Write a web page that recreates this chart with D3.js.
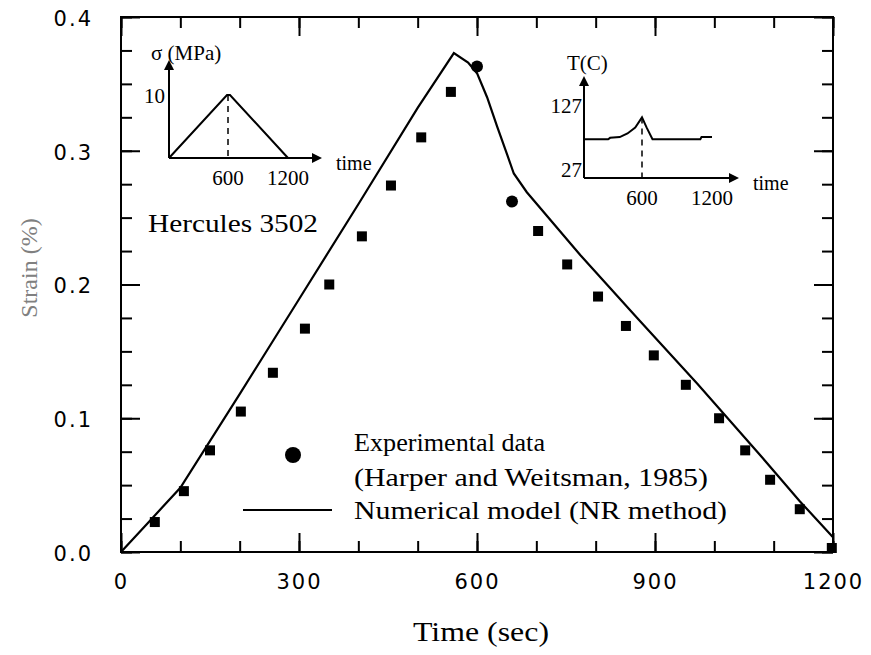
<!DOCTYPE html>
<html><head><meta charset="utf-8">
<script src="https://cdn.jsdelivr.net/npm/d3@7"></script>
<style>body{margin:0;background:#fff}svg{display:block}</style>
</head><body>
<svg id="c" width="871" height="655"></svg>
<script>
// ---- data ----
const expTime   = [57,106,150,202,256,310,351,406,455,506,556,600,659,703,752,804,851,898,952,1008,1052,1094,1144,1198];
const expStrain = [0.0224,0.0455,0.076,0.105,0.134,0.167,0.200,0.236,0.274,0.310,0.344,0.363,0.262,0.240,0.215,0.191,0.169,0.147,0.125,0.100,0.076,0.054,0.032,0.003];
const modelTime   = [0,50,100,200,300,400,500,561,585,600,617,634,651,662,684,774,870,971,1080,1144,1200];
const modelStrain = [0,0.024,0.048,0.118,0.189,0.260,0.332,0.373,0.366,0.358,0.340,0.318,0.297,0.283,0.269,0.222,0.175,0.126,0.071,0.038,0.011];
const xTickLabels = ["0","300","600","900","1200"];
const yTickLabels = ["0.0","0.1","0.2","0.3","0.4"];
const stressTime = [0,590,620,1200];
const stressVal  = [0,10,10,0];
const tempTime = [0,250,270,370,450,530,600,640,690,1100,1110,1200];
const tempVal  = [80,80,82,83,88,96,110,96,80,80,83,83];
const insetTicks = ["600","1200"];
const legendText = ["Experimental data","(Harper and Weitsman, 1985)","Numerical model (NR method)"];

const svg = d3.select("#c");
const x = d3.scaleLinear().domain([0,1200]).range([121,833]);
const y = d3.scaleLinear().domain([0,0.4]).range([552,17]);
const serif = "'Liberation Serif', 'Times New Roman', serif";
const sans = "'DejaVu Sans', sans-serif";

// frame
svg.append("rect").attr("x",121).attr("y",17).attr("width",712).attr("height",535)
  .attr("fill","none").attr("stroke","#000").attr("stroke-width",2);

function styleAxis(g){ g.select(".domain").remove(); g.selectAll("line").attr("stroke","#000").attr("stroke-width",2); }
const xMinor = d3.range(0,1201,100), xMajor = xTickLabels.map(Number);
const yMinor = d3.range(0,0.4001,0.025), yMajor = yTickLabels.map(Number);

svg.append("g").attr("transform","translate(0,552)").call(d3.axisBottom(x).tickValues(xMinor).tickSize(-11).tickFormat("")).call(styleAxis);
svg.append("g").attr("transform","translate(0,552)").call(d3.axisBottom(x).tickValues(xMajor).tickSize(-19).tickPadding(30).tickFormat((d,i)=>xTickLabels[i])).call(styleAxis)
  .selectAll("text").attr("font-family",sans).attr("font-size",21).attr("fill","#000").attr("letter-spacing",2).attr("dy","0.35em");
svg.append("g").attr("transform","translate(0,17)").call(d3.axisTop(x).tickValues(xMinor).tickSize(-11).tickFormat("")).call(styleAxis);
svg.append("g").attr("transform","translate(0,17)").call(d3.axisTop(x).tickValues(xMajor).tickSize(-19).tickFormat("")).call(styleAxis);

svg.append("g").attr("transform","translate(121,0)").call(d3.axisLeft(y).tickValues(yMinor).tickSize(-11).tickFormat("")).call(styleAxis);
svg.append("g").attr("transform","translate(121,0)").call(d3.axisLeft(y).tickValues(yMajor).tickSize(-19).tickPadding(28).tickFormat((d,i)=>yTickLabels[i])).call(styleAxis)
  .selectAll("text").attr("font-family",sans).attr("font-size",21).attr("fill","#000").attr("letter-spacing",2).attr("dy","0.4em");
svg.append("g").attr("transform","translate(833,0)").call(d3.axisRight(y).tickValues(yMinor).tickSize(-11).tickFormat("")).call(styleAxis);
svg.append("g").attr("transform","translate(833,0)").call(d3.axisRight(y).tickValues(yMajor).tickSize(-19).tickFormat("")).call(styleAxis);

// axis titles
svg.append("text").attr("x",413).attr("y",641).attr("font-family",serif).attr("font-size",28)
  .attr("textLength",136).attr("lengthAdjust","spacingAndGlyphs").text("Time (sec)");
svg.append("text").attr("transform","translate(37,268) rotate(-90)").attr("text-anchor","middle")
  .attr("font-family",serif).attr("font-size",24).attr("fill","#808080").text("Strain (%)");

// model line
const line = d3.line().x(d=>x(d[0])).y(d=>y(d[1]));
svg.append("path").datum(modelTime.map((t,i)=>[t,modelStrain[i]])).attr("d",line)
  .attr("fill","none").attr("stroke","#000").attr("stroke-width",2.2);

// experimental points
const pts = expTime.map((t,i)=>[t,expStrain[i]]);
svg.append("g").selectAll("rect").data(pts.filter(d=>d[0]!==600 && d[0]!==659)).join("rect")
  .attr("x",d=>x(d[0])-5).attr("y",d=>y(d[1])-5).attr("width",10).attr("height",10).attr("fill","#000");
svg.append("g").selectAll("circle").data(pts.filter(d=>d[0]===600||d[0]===659)).join("circle")
  .attr("cx",d=>x(d[0])).attr("cy",d=>y(d[1])).attr("r",6).attr("fill","#000");

// Hercules label
svg.append("text").attr("x",148).attr("y",232).attr("font-family",serif).attr("font-size",25)
  .attr("textLength",170).attr("lengthAdjust","spacingAndGlyphs").text("Hercules 3502");

// legend
svg.append("circle").attr("cx",293).attr("cy",455).attr("r",8).attr("fill","#000");
svg.append("line").attr("x1",243).attr("x2",332).attr("y1",510).attr("y2",510).attr("stroke","#000").attr("stroke-width",2);
const legW=[191,354,373], legY=[451,486,519];
legendText.forEach((t,i)=>svg.append("text").attr("x",354).attr("y",legY[i]).attr("font-family",serif)
  .attr("font-size",25).attr("textLength",legW[i]).attr("lengthAdjust","spacingAndGlyphs").text(t));

// arrow marker
svg.append("defs").append("marker").attr("id","arr").attr("viewBox","0 0 10 10").attr("refX",2).attr("refY",5)
  .attr("markerWidth",5).attr("markerHeight",5).attr("orient","auto").attr("markerUnits","strokeWidth")
  .append("path").attr("d","M0,0L10,5L0,10z").attr("fill","#000");

function inset(xs, ys, xEnd, yTop, times, vals, peakT, peakV){
  const ox = xs(0), oy = ys.range()[0];
  svg.append("line").attr("x1",ox).attr("y1",oy).attr("x2",ox).attr("y2",yTop+8).attr("stroke","#000").attr("stroke-width",2).attr("marker-end","url(#arr)");
  svg.append("line").attr("x1",ox).attr("y1",oy).attr("x2",xEnd-8).attr("y2",oy).attr("stroke","#000").attr("stroke-width",2).attr("marker-end","url(#arr)");
  svg.append("line").attr("x1",xs(peakT)).attr("x2",xs(peakT)).attr("y1",ys(peakV)).attr("y2",oy)
    .attr("stroke","#000").attr("stroke-width",1.5).attr("stroke-dasharray","6,5");
  svg.append("path").datum(times.map((t,i)=>[t,vals[i]]))
    .attr("d",d3.line().x(d=>xs(d[0])).y(d=>ys(d[1]))).attr("fill","none").attr("stroke","#000").attr("stroke-width",2);
  insetTicks.forEach(t=>svg.append("text").attr("x",xs(+t)).attr("y",oy+27).attr("text-anchor","middle")
    .attr("font-family",serif).attr("font-size",21).text(t));
  svg.append("text").attr("x",xEnd+14).attr("y",oy+12).attr("font-family",serif).attr("font-size",20).text("time");
}

// stress inset
const sx = d3.scaleLinear().domain([0,600,1200]).range([169,228,288]);
const sy = d3.scaleLinear().domain([0,10]).range([158,95]);
inset(sx, sy, 322, 60, stressTime, stressVal, 600, 10);
svg.append("text").attr("x",165).attr("y",sy(10)+8).attr("text-anchor","end").attr("font-family",serif).attr("font-size",21).text("10");
svg.append("text").attr("x",151).attr("y",60).attr("font-family",serif).attr("font-size",21).text("σ (MPa)");

// temperature inset
const tx = d3.scaleLinear().domain([0,600,1200]).range([584,642,712]);
const ty = d3.scaleLinear().domain([27,127]).range([178,105]);
inset(tx, ty, 739, 76, tempTime, tempVal, 600, 110);
svg.append("text").attr("x",582).attr("y",ty(127)+8).attr("text-anchor","end").attr("font-family",serif).attr("font-size",21).text("127");
svg.append("text").attr("x",582).attr("y",177).attr("text-anchor","end").attr("font-family",serif).attr("font-size",21).text("27");
svg.append("text").attr("x",567).attr("y",70).attr("font-family",serif).attr("font-size",21).text("T(C)");
</script>
</body></html>
